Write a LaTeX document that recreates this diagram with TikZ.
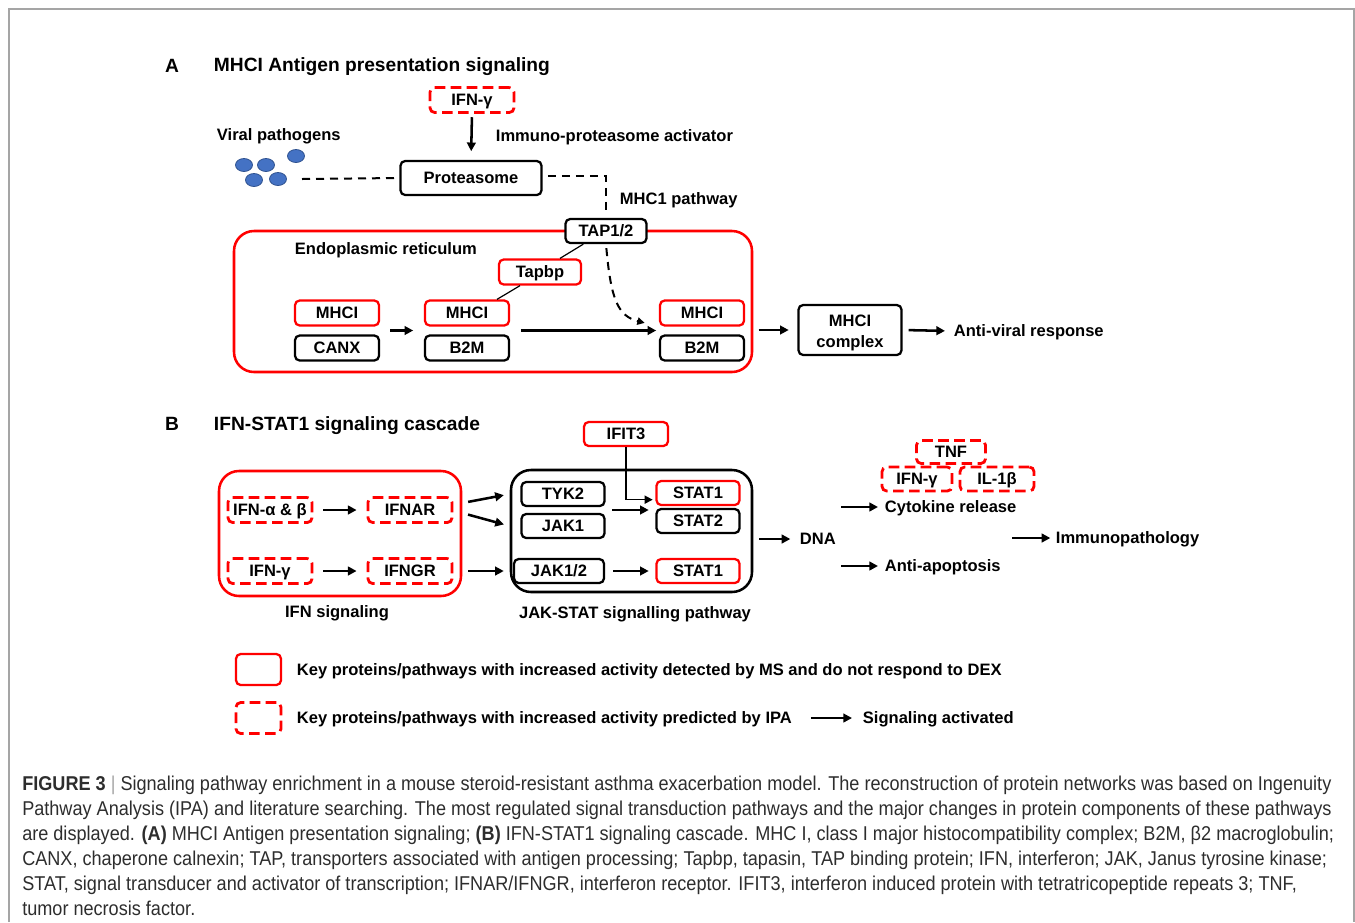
\documentclass[tikz,border=0pt]{standalone}
\usepackage{fontspec}
\setmainfont{Liberation Sans}
\newfontfamily\capfont[FakeStretch=0.905]{Liberation Sans}
\usetikzlibrary{arrows.meta, positioning, calc}
\definecolor{kred} {RGB}{255,  0,  0}
\definecolor{dblue}{RGB}{ 68,114,196}
\definecolor{dedge}{RGB}{ 47, 82,143}
\definecolor{fgray}{RGB}{165,165,165}
\definecolor{ctext}{RGB}{ 45, 45, 45}
\newcommand{\lbl}{\fontsize{12.4}{15.5}\selectfont\bfseries}
\newcommand{\ttl}{\fontsize{14.4}{17}\selectfont\bfseries}
\tikzset{
  % Black protein box
  KB/.style={rectangle,rounded corners=3.5pt,draw=black,fill=white,
             minimum width=#1,minimum height=18.75pt,font=\lbl,
             text height=9.5pt,text depth=0.6pt,
             inner sep=0pt,line width=1.7pt},
  KB/.default=63pt,
  % Red box, detected by MS
  RB/.style={KB=#1,draw=kred},
  RB/.default=63pt,
  % Red dashed box, predicted by IPA
  RD/.style={KB=#1,draw=kred,dash pattern=on 8pt off 4pt,line width=2.1pt},
  RD/.default=63pt,
  % Large group frame
  GB/.style={rectangle,rounded corners=15pt,line width=1.9pt,inner sep=0pt},
  % Plain bold label
  TX/.style={font=\lbl,inner sep=2pt,text height=9.5pt,text depth=0.6pt},
  TT/.style={font=\ttl,inner sep=2pt,text height=10.9pt,text depth=0.6pt},
  % Arrows
  Arr/.style ={-{Triangle[length=6.5pt,width=6.5pt]},line width=1.9pt},
  DLn/.style ={line width=1.5pt,dash pattern=on 6pt off 4.5pt},
  DArr/.style={DLn,-{Triangle[length=5.5pt,width=5.5pt]}},
}
\begin{document}
\begin{tikzpicture}[x=0.75pt,y=-0.75pt]
  \useasboundingbox (0,0) rectangle (1355,922);
  \draw[fgray,line width=1.1pt] (9,922) -- (9,9) -- (1354,9) -- (1354,922);

  % ---- A: MHCI antigen presentation
  \node[TT] at (172,66) (la) {A};
  \node[TT,anchor=west] at (211,65) (ta)
        {MHCI Antigen presentation signaling};
  \node[RD] at (472,100) (ifng) {IFN-γ};
  \node[TX,anchor=west] at (493,136) (ipa) {Immuno-proteasome activator};
  \node[TX,anchor=west] at (214,135) (vp) {Viral pathogens};
  \foreach \px/\py in {244/165,266/165,296/156,254/180,278/179}
    \filldraw[fill=dblue,draw=dedge,line width=0.6pt] (\px,\py) ellipse (8.5 and 6.5);
  \coordinate (vir) at (302,179);
  \node[KB=105.75pt,minimum height=25.5pt] at (471,178) (prot) {Proteasome};
  \node[TX,anchor=west] at (617,199) (mp) {MHC1 pathway};
  \draw[Arr,shorten <=2.5pt,shorten >=6.5pt] (ifng.south) -- (prot.north);
  \draw[DLn,shorten >=3pt] (vir) -- (prot.west);

  \node[GB,draw=kred,minimum width=388.5pt,minimum height=105.75pt]
        at (493,301.5) (er) {};
  \node[TX,anchor=west] at (292,249) (ert) {Endoplasmic reticulum};
  \node[KB=60.75pt,minimum height=18pt] at (606,231) (tap) {TAP1/2};
  \node[RB=61.5pt] at (540,272) (tapbp) {Tapbp};
  \node[RB] at (337,313) (mhca) {MHCI};
  \node[KB] at (337,348) (canx) {CANX};
  \node[RB] at (467,313) (mhcb) {MHCI};
  \node[KB] at (467,348) (b2mb) {B2M};
  \node[RB] at (702,313) (mhcc) {MHCI};
  \node[KB] at (702,348) (b2mc) {B2M};
  \node[KB=77.25pt,minimum height=37.5pt,align=center,text height=28.8pt,text depth=]
        at (850,330) (cplx) {MHCI\\complex};
  \node[TX,anchor=west] at (951,331) (avr) {Anti-viral response};

  \draw[DLn,shorten <=4pt,shorten >=4pt] ([yshift=1.5pt]prot.east) -| (tap.north);
  \draw[line width=0.9pt] ([xshift=-17pt]tap.south) -- ([xshift=15pt]tapbp.north);
  \draw[line width=0.9pt] ([xshift=-15pt]tapbp.south) -- ([xshift=22.5pt]mhcb.north);
  \draw[DArr,shorten <=3pt,shorten >=11pt] (tap.south)
        .. controls (611,300) and (618,316) .. (mhcc.south west);
  \draw[Arr,shorten <=7.5pt,shorten >=8pt]
        ($(mhca.south east)!.5!(canx.north east)$) --
        ($(mhcb.south west)!.5!(b2mb.north west)$);
  \draw[Arr,shorten <=8pt,shorten >=2pt]
        ($(mhcb.south east)!.5!(b2mb.north east)$) --
        ($(mhcc.south west)!.5!(b2mc.north west)$);
  \draw[Arr,shorten <=4pt,shorten >=6.5pt] (er.east |- cplx) -- (cplx.west);
  \draw[Arr,shorten <=4.5pt,shorten >=4.5pt] (cplx.east) -- (avr.west);

  % ---- B: IFN-STAT1 cascade
  \node[TT] at (172,424) (lb) {B};
  \node[TT,anchor=west] at (211,424) (tb) {IFN-STAT1 signaling cascade};
  \node[GB,draw=kred,minimum width=181.5pt,minimum height=93.75pt]
        at (340,533.5) (ifnbox) {};
  \node[GB,draw=black,minimum width=180.75pt,minimum height=91.5pt]
        at (631.5,531) (jsbox) {};
  \node[RD] at (270,510) (ifnab) {IFN-α \& β};
  \node[RD] at (410,510) (ifnar) {IFNAR};
  \node[RD] at (270,571) (ifngb) {IFN-γ};
  \node[RD] at (410,571) (ifngr) {IFNGR};
  \node[TX] at (337,612) (ifns) {IFN signaling};
  \node[TX] at (635,613) (jst) {JAK-STAT signalling pathway};
  \node[RB=63pt,minimum height=18pt] at (626,434) (ifit) {IFIT3};
  \node[KB=62.25pt,minimum height=18pt] at (563,494) (tyk2) {TYK2};
  \node[KB=62.25pt,minimum height=18pt] at (563,526) (jak1) {JAK1};
  \node[RB=62.25pt,minimum height=18pt] at (698,493) (stata) {STAT1};
  \node[KB=62.25pt,minimum height=18pt] at (698,521) (statb) {STAT2};
  \node[KB=67.5pt,minimum height=18pt] at (559,571) (jak12) {JAK1/2};
  \node[RB=62.25pt,minimum height=18pt] at (698,571) (statc) {STAT1};
  \node[TX,anchor=west] at (797,539) (dna) {DNA};
  \node[RD=51.75pt,minimum height=17.25pt] at (951,452) (tnf) {TNF};
  \node[RD=52.5pt,minimum height=18pt] at (917,479) (ifngc) {IFN-γ};
  \node[RD=55.5pt,minimum height=18pt] at (997,479) (il1b) {IL-1β};
  \node[TX,anchor=west] at (882,507) (cyt) {Cytokine release};
  \node[TX,anchor=west] at (882,566) (apo) {Anti-apoptosis};
  \node[TX,anchor=west] at (1053,538) (imm) {Immunopathology};
  \coordinate (tj) at ($(tyk2.south east)!.5!(jak1.north east)$);
  \coordinate (ip) at (1012,538);

  \draw[Arr,shorten <=7.5pt,shorten >=7.5pt] (ifnab) -- (ifnar);
  \draw[Arr,shorten <=7.5pt,shorten >=7.5pt] (ifngb) -- (ifngr);
  \draw[Arr,shorten <=4.5pt,shorten >=4.5pt]
        ($(ifnbox.east |- ifnar)+(0,-7)$) -- (jsbox.west |- tyk2);
  \draw[Arr,shorten <=4.5pt,shorten >=4.5pt]
        ($(ifnbox.east |- ifnar)+(0,3)$) -- (jsbox.west |- jak1);
  \draw[Arr,shorten <=4.5pt,shorten >=4.5pt] (ifnbox.east |- ifngr) -- (jsbox.west |- jak12);
  \draw[-{Triangle[length=6pt,width=6pt]},line width=1.2pt,shorten >=2pt]
        (ifit.south) |- ([yshift=-5pt]stata.west);
  \draw[Arr,shorten <=5pt,shorten >=5pt] (tj) -- (tj -| stata.west);
  \draw[Arr,shorten <=6pt,shorten >=5pt] (jak12) -- (statc);
  \draw[Arr,shorten <=4.5pt,shorten >=5pt] (jsbox.east |- dna) -- (dna.west);
  \draw[Arr,shorten <=2pt,shorten >=3pt] (dna.east |- cyt) -- (cyt.west);
  \draw[Arr,shorten <=2pt,shorten >=3pt] (dna.east |- apo) -- (apo.west);
  \draw[Arr,shorten >=2pt] (ip) -- (imm.west);

  % ---- legend
  \node[RB=33.75pt,minimum height=23.25pt] at (258.5,669.5) (kms) {};
  \node[TX,anchor=west] at (294,670) (kmst)
        {Key proteins/pathways with increased activity detected by MS and do not respond to DEX};
  \node[RD=33.75pt,minimum height=23.25pt] at (258.5,718) (kipa) {};
  \node[TX,anchor=west] at (294,718) (kipat)
        {Key proteins/pathways with increased activity predicted by IPA};
  \node[TX,anchor=west] at (860,718) (sig) {Signaling activated};
  \draw[Arr,shorten <=12pt,shorten >=6pt] (kipat.east) -- (sig.west);

  % ---- caption
  \node[anchor=north west,align=left,inner sep=0pt,text=ctext,
        font=\fontsize{15}{18.75}\capfont] at (22,776) (cap)
  {{\bfseries FIGURE 3} {\color{fgray}|} Signaling pathway enrichment in a mouse steroid-resistant asthma exacerbation model. The reconstruction of protein networks was based on Ingenuity\\
   Pathway Analysis (IPA) and literature searching. The most regulated signal transduction pathways and the major changes in protein components of these pathways\\
   are displayed. {\bfseries (A)} MHCI Antigen presentation signaling; {\bfseries (B)} IFN-STAT1 signaling cascade. MHC I, class I major histocompatibility complex; B2M, β2 macroglobulin;\\
   CANX, chaperone calnexin; TAP, transporters associated with antigen processing; Tapbp, tapasin, TAP binding protein; IFN, interferon; JAK, Janus tyrosine kinase;\\
   STAT, signal transducer and activator of transcription; IFNAR/IFNGR, interferon receptor. IFIT3, interferon induced protein with tetratricopeptide repeats 3; TNF,\\
   tumor necrosis factor.};
\end{tikzpicture}
\end{document}
